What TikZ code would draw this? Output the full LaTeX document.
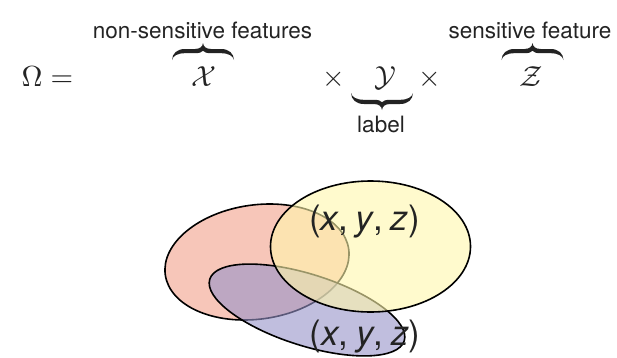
\documentclass[tikz,border=0pt]{standalone}
\usepackage{fontspec}
\newfontfamily\hv{TeX Gyre Heros}
\definecolor{redf}{RGB}{242,160,138}
\definecolor{yelf}{RGB}{255,247,172}
\definecolor{bluf}{RGB}{150,147,200}
\definecolor{ink}{RGB}{35,35,35}
\begin{document}
\begin{tikzpicture}[x=1pt,y=1pt,
  mathtxt/.style={inner sep=0pt, scale=2.9, text=ink},
  lbl/.style={inner sep=0pt, font=\hv\fontsize{22.5}{27}\selectfont, text=ink},
  pt/.style={inner sep=0pt, font=\hv\fontsize{35}{40}\selectfont, text=ink},
  ell/.style={draw=black, line width=1.6pt, fill opacity=0.6, draw opacity=1},
  bracepic/.pic={
    \fill[ink] (0,0) .. controls (0.2,6.5) and (5,11) .. (13,11)
      -- (23,11) .. controls (28,11.2) and (30.5,13.2) .. (31,17)
      .. controls (31.5,13.2) and (34,11.2) .. (39,11)
      -- (49,11) .. controls (57,11) and (61.8,6.5) .. (62,0)
      .. controls (61,4.2) and (56.5,6.8) .. (49,6.8)
      -- (39,6.8) .. controls (35,6.8) and (32,7.6) .. (31,9.2)
      .. controls (30,7.6) and (27,6.8) .. (23,6.8)
      -- (13,6.8) .. controls (5.5,6.8) and (1,4.2) .. (0,0) -- cycle;
  }]
\useasboundingbox (0,0) rectangle (617,357);
% top formula
\node[mathtxt, anchor=base west] (omega) at (21,270.5) {$\Omega =$};
\node[mathtxt, anchor=base] (X) at (203.5,270.5) {$\mathcal{X}$};
\node[mathtxt, anchor=base] (t1) at (334,270.5) {$\times$};
\node[mathtxt, anchor=base] (Y) at (385,270.5) {$\mathcal{Y}$};
\node[mathtxt, anchor=base] (t2) at (430,270.5) {$\times$};
\node[mathtxt, anchor=base] (Z) at (531,270.5) {$\mathcal{Z}$};
\pic at (172,297) {bracepic};
\pic at (501.5,297) {bracepic};
\pic[yscale=-1] at (351,264) {bracepic};
\node[lbl, anchor=base] (lX) at (202.5,319) {non-sensitive features};
\node[lbl, anchor=base] (lZ) at (530,319) {sensitive feature};
\node[lbl, anchor=base] (lY) at (381,225) {label};
% ellipses
\draw[ell, fill=redf, rotate around={8:(257,95)}] (257,95) ellipse [x radius=92.6, y radius=57.1];
\draw[ell, fill=bluf, rotate around={-17.6:(307,47)}] (307,47) ellipse [x radius=102, y radius=35.7];
\draw[ell, fill=yelf] (370.5,110.5) ellipse [x radius=100, y radius=65.5];
\node[pt] (p1) at (364.5,135.5) {(\textit{x},\hspace{0.22em}\textit{y},\hspace{0.22em}\textit{z})};
\node[pt] (p2) at (365,20.5) {(\textit{x},\hspace{0.22em}\textit{y},\hspace{0.22em}\textit{z})};
\end{tikzpicture}
\end{document}
